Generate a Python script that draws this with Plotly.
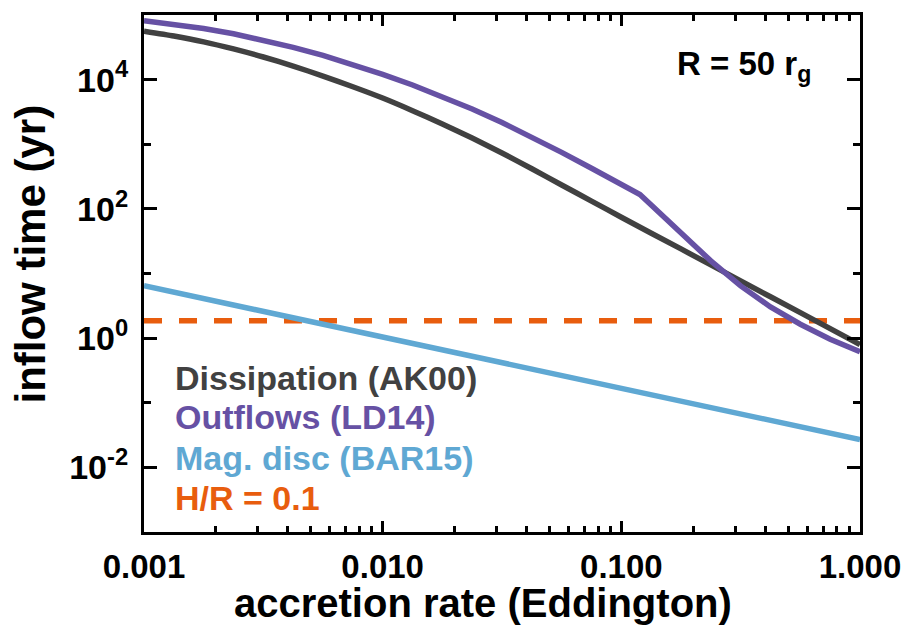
import plotly.graph_objects as go

# Accretion rate grid (Eddington units)
mdot = [0.001, 0.001334, 0.001778, 0.002371, 0.003162, 0.004217, 0.005623, 0.007499,
        0.01, 0.01334, 0.01778, 0.02371, 0.03162, 0.04217, 0.05623, 0.07499,
        0.1, 0.1778, 0.3162, 0.5623, 1.0]

# Inflow times (yr) at R = 50 r_g
t_dissipation = [56230, 47320, 38460, 29850, 22390, 16220, 11350, 7762,
                 5188, 3311, 2065, 1245, 733, 417, 234, 132,
                 74.1, 24.0, 7.67, 2.48, 0.794]

mdot_outflow = [0.001, 0.001334, 0.001778, 0.002371, 0.003162, 0.004217, 0.005623, 0.007499,
                0.01, 0.01334, 0.01778, 0.02371, 0.03162, 0.04217, 0.05623, 0.07499,
                0.1, 0.1197, 0.1334, 0.1778, 0.2371, 0.3162, 0.4217, 0.5623, 0.7499, 1.0]
t_outflow = [81280, 72010, 61840, 51290, 40980, 31620, 23650, 17180,
             12020, 8270, 5495, 3518, 2169, 1292, 747.7, 425.4,
             239.2, 167.1, 114.4, 41.78, 15.70, 6.434, 3.044, 1.640, 0.9627, 0.6166]

mdot_mag = [0.001, 0.01, 0.1, 1.0]
t_mag = [6.46, 1.05, 0.166, 0.0269]

mdot_hr = [0.001, 1.0]
t_hr = [1.85, 1.85]

labels = ["Dissipation (AK00)", "Outflows (LD14)", "Mag. disc (BAR15)", "H/R = 0.1"]
colors = ["#414141", "#6651A4", "#5FA8D3", "#E85D0E"]

x_tickvals = [0.001, 0.01, 0.1, 1.0]
x_ticktext = ["0.001", "0.010", "0.100", "1.000"]
y_tickvals = [1e-2, 1e0, 1e2, 1e4]
y_ticktext = ["10<sup>-2</sup>", "10<sup>0</sup>", "10<sup>2</sup>", "10<sup>4</sup>"]

FONT = "Liberation Sans, Arial, Helvetica, sans-serif"
LW = 5.5

fig = go.Figure()
fig.add_trace(go.Scatter(x=mdot_hr, y=t_hr, mode="lines",
                         line=dict(color=colors[3], width=LW, dash="18px,17px")))
fig.add_trace(go.Scatter(x=mdot_mag, y=t_mag, mode="lines",
                         line=dict(color=colors[2], width=LW)))
fig.add_trace(go.Scatter(x=mdot, y=t_dissipation, mode="lines",
                         line=dict(color=colors[0], width=LW, shape="spline", smoothing=0.6)))
fig.add_trace(go.Scatter(x=mdot_outflow, y=t_outflow, mode="lines",
                         line=dict(color=colors[1], width=LW)))

x_minor = [m * d for d in (0.001, 0.01, 0.1) for m in range(2, 10)]
y_minor = [1e-1, 1e1, 1e3]

fig.update_xaxes(
    type="log", range=[-3, 0], showgrid=False, zeroline=False,
    showline=True, linewidth=3, linecolor="black", mirror="ticks",
    ticks="inside", ticklen=11, tickwidth=3, tickcolor="black",
    tickvals=x_tickvals, ticktext=x_ticktext,
    tickfont=dict(size=33, color="black", family=FONT, weight="bold"),
    ticklabelstandoff=3,
    minor=dict(tickvals=x_minor, ticks="inside", ticklen=6, tickwidth=2.5,
               tickcolor="black", showgrid=False),
)
fig.update_yaxes(
    type="log", range=[-3, 5], showgrid=False, zeroline=False,
    showline=True, linewidth=3, linecolor="black", mirror="ticks",
    ticks="inside", ticklen=13, tickwidth=3, tickcolor="black",
    tickvals=y_tickvals, ticktext=y_ticktext,
    tickfont=dict(size=34, color="black", family=FONT, weight="bold"),
    ticklabelstandoff=6,
    minor=dict(tickvals=y_minor, ticks="inside", ticklen=7, tickwidth=2.5,
               tickcolor="black", showgrid=False),
)

annotations = []
# axis titles
annotations.append(dict(text="accretion rate (Eddington)", xref="paper", yref="paper",
                        x=0.473, y=-0.138, xanchor="center", yanchor="middle",
                        showarrow=False,
                        font=dict(size=40, color="black", family=FONT, weight="bold")))
annotations.append(dict(text="inflow time (yr)", xref="paper", yref="paper",
                        x=-0.159, y=0.537, xanchor="center", yanchor="middle",
                        textangle=-90, showarrow=False,
                        font=dict(size=42, color="black", family=FONT, weight="bold")))
# legend entries as coloured text
legend_y = [0.298, 0.223, 0.144, 0.066]
for lab, col, yy in zip(labels, colors, legend_y):
    annotations.append(dict(text=lab, xref="paper", yref="paper", x=0.0405, y=yy,
                            xanchor="left", yanchor="middle", showarrow=False,
                            font=dict(size=34, color=col, family=FONT, weight="bold")))
# radius label
annotations.append(dict(text="R = 50 r<sub>g</sub>", xref="paper", yref="paper",
                        x=0.741, y=0.901, xanchor="left", yanchor="middle",
                        showarrow=False,
                        font=dict(size=33, color="black", family=FONT, weight="bold")))

fig.update_layout(
    width=915, height=630,
    margin=dict(l=144, r=55, t=12, b=98),
    paper_bgcolor="white", plot_bgcolor="white",
    showlegend=False,
    font=dict(family=FONT, color="black"),
    annotations=annotations,
)

fig.write_html("out.html")
